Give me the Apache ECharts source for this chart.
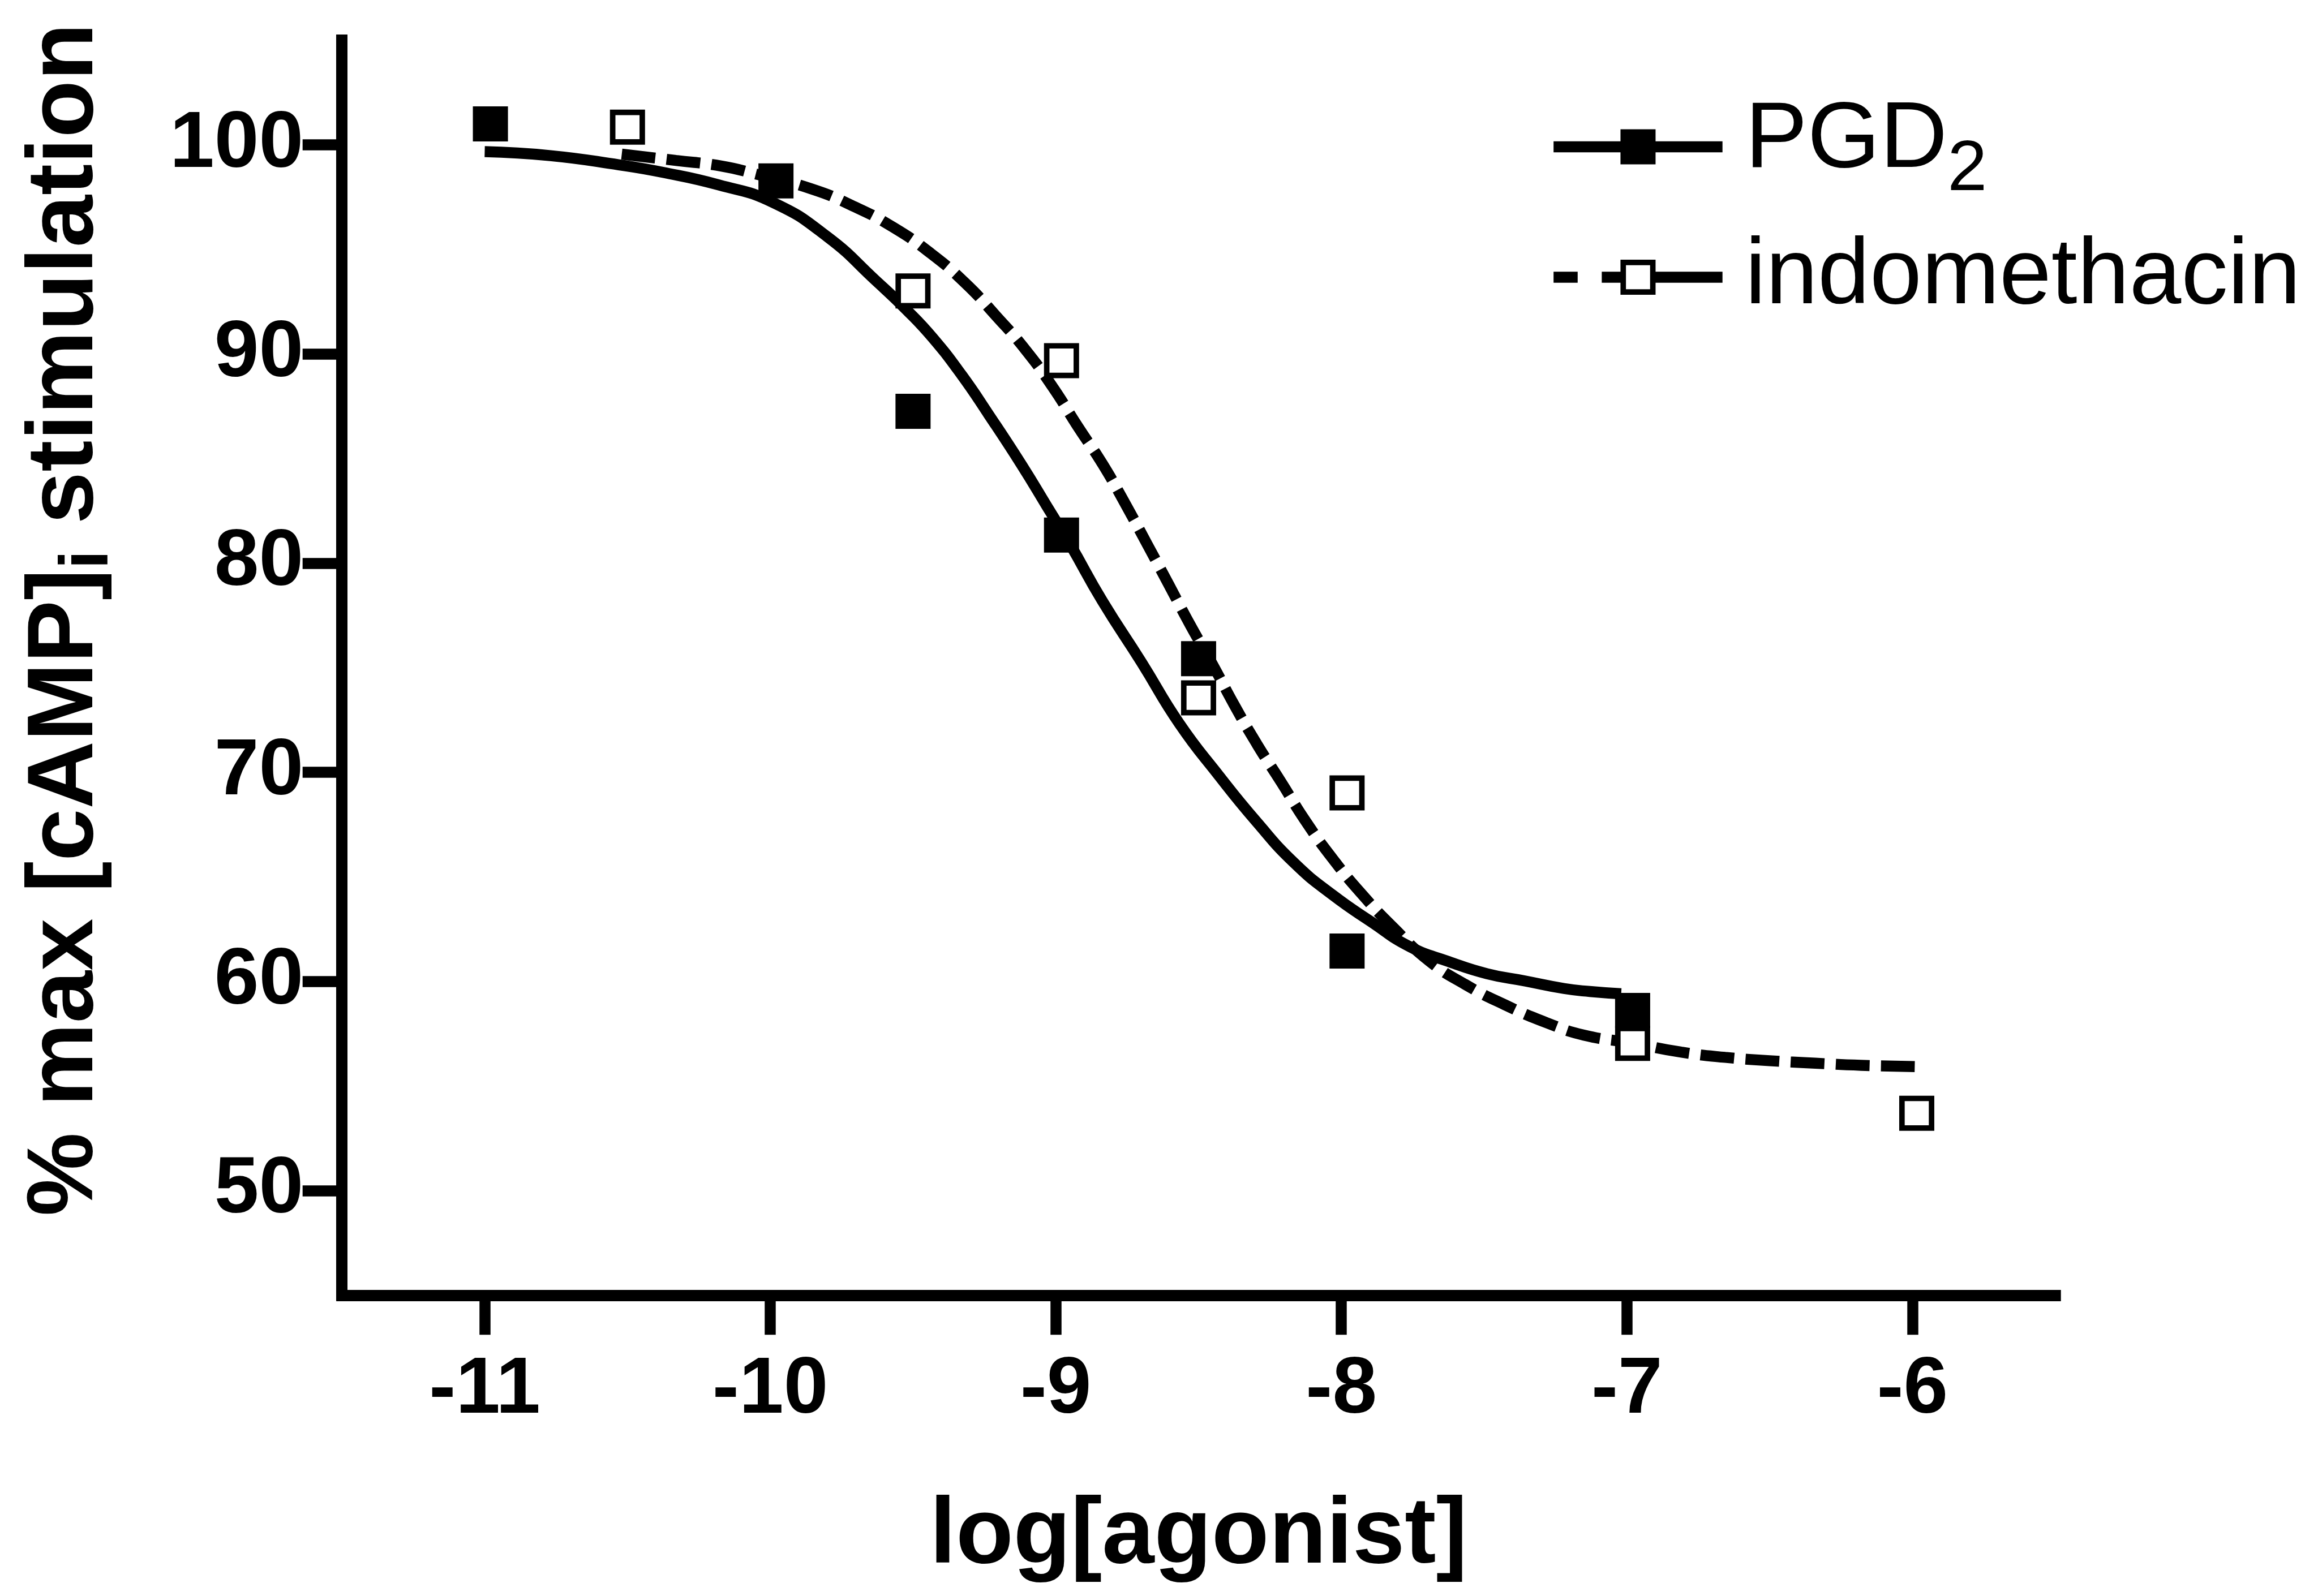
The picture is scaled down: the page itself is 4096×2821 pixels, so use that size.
<!DOCTYPE html>
<html>
<head>
<meta charset="utf-8">
<script src="https://cdn.jsdelivr.net/npm/echarts@6/dist/echarts.min.js"></script>
<style>
  html, body { margin: 0; padding: 0; background: #fff; }
  #chart { width: 4096px; height: 2821px; }
</style>
</head>
<body>
<div id="chart"></div>
<script>
// ---- data ----
const xTicks = [-11, -10, -9, -8, -7, -6];
const yTicks = [50, 60, 70, 80, 90, 100];

// measured points
const pgd2X = [-10.98, -9.98, -9.50, -8.98, -8.50, -7.98, -6.98];
const pgd2Y = [101.0, 98.27, 87.26, 81.34, 75.43, 61.45, 58.61];

const indoX = [-10.50, -9.50, -8.98, -8.50, -7.98, -6.98, -5.985];
const indoY = [100.84, 93.01, 89.68, 73.56, 69.01, 57.04, 53.70];

// fitted curves
const pgd2FitX = [-11.0, -10.77, -10.53, -10.38, -10.18, -9.99, -9.80, -9.63, -9.52, -9.43, -9.33, -9.235, -9.12, -9.03, -8.95, -8.837, -8.70, -8.567, -8.43, -8.298, -8.164, -8.03, -7.893, -7.76, -7.624, -7.49, -7.356, -7.22, -7.13, -7.02];
const pgd2FitY = [99.67, 99.48, 99.04, 98.69, 98.08, 97.24, 95.6, 93.5, 92.07, 90.75, 89.0, 87.1, 84.7, 82.69, 80.9, 78.19, 75.26, 72.32, 69.86, 67.65, 65.65, 64.13, 62.83, 61.66, 60.95, 60.37, 60.02, 59.66, 59.52, 59.41];

const indoFitX = [-10.52, -10.33, -10.17, -10.05, -9.858, -9.71, -9.57, -9.44, -9.318, -9.21, -9.105, -9.01, -8.924, -8.836, -8.757, -8.68, -8.605, -8.53, -8.45, -8.376, -8.296, -8.21, -8.125, -8.03, -7.93, -7.816, -7.69, -7.568, -7.43, -7.28, -7.15, -6.98, -6.81, -6.656, -6.50, -6.34, -6.18, -5.99];
const indoFitY = [99.55, 99.25, 98.98, 98.6, 97.9, 97.07, 96.06, 94.83, 93.4, 91.83, 90.18, 88.4, 86.55, 84.73, 82.84, 80.9, 78.99, 77.06, 75.13, 73.24, 71.35, 69.51, 67.66, 65.86, 64.2, 62.55, 60.95, 59.87, 58.9, 58.02, 57.43, 57.05, 56.62, 56.37, 56.21, 56.09, 55.99, 55.93];

const seriesNames = ['PGD2', 'indomethacin'];
const xTitle = 'log[agonist]';

// ---- chart ----
const FONT = 'Liberation Sans';
const zip = (xs, ys) => xs.map((x, i) => [x, ys[i]]);

const chart = echarts.init(document.getElementById('chart'), null, { renderer: 'canvas' });

const option = {
  backgroundColor: '#ffffff',
  animation: false,
  grid: { left: 604.2, right: 464.3, top: 71, bottom: 531.7, containLabel: false, outerBoundsMode: 'none' },
  xAxis: {
    type: 'value', min: -11.5, max: -5.5,
    axisLine: { show: true, onZero: false, lineStyle: { color: '#000', width: 20, cap: 'square' } },
    axisTick: { show: true, length: 70, customValues: xTicks, lineStyle: { color: '#000', width: 19.5 } },
    axisLabel: { show: true, customValues: xTicks, margin: 98, fontSize: 141.5, lineHeight: 141.5, fontWeight: 'bold', color: '#000', fontFamily: FONT },
    splitLine: { show: false },
    name: xTitle, nameLocation: 'middle', nameGap: 343.5, nameMoveOverlap: false,
    nameTextStyle: { fontSize: 166, lineHeight: 166, fontWeight: 'bold', color: '#000', fontFamily: FONT }
  },
  yAxis: {
    type: 'value', min: 45, max: 105,
    axisLine: { show: true, onZero: false, lineStyle: { color: '#000', width: 20, cap: 'square' } },
    axisTick: { show: true, length: 69.5, customValues: yTicks, lineStyle: { color: '#000', width: 19.5 } },
    axisLabel: { show: true, customValues: yTicks, margin: 68, fontSize: 141.5, lineHeight: 141.5, fontWeight: 'bold', color: '#000', fontFamily: FONT },
    splitLine: { show: false },
    name: '{a|% max [cAMP]}{s|i}{a| stimulation}',
    nameLocation: 'middle', nameGap: 404, nameMoveOverlap: false,
    nameTextStyle: {
      color: '#000', fontFamily: FONT, fontWeight: 'bold', fontSize: 166, lineHeight: 166,
      padding: [0, 0, 0, 170],
      rich: {
        a: { fontSize: 166, lineHeight: 166, fontWeight: 'bold', color: '#000', fontFamily: FONT },
        s: { fontSize: 120, lineHeight: 20, fontWeight: 'bold', color: '#000', fontFamily: FONT, padding: [80, 0, 0, 0] }
      }
    }
  },
  legend: [
    {
      data: [seriesNames[0]], left: 2735.5, top: 134.5, padding: 0,
      itemWidth: 298.5, itemHeight: 77.5, selectedMode: false,
      formatter: () => '{a|PGD}{s|2}',
      lineStyle: { width: 19.4 },
      itemStyle: { borderWidth: 0 },
      textStyle: {
        color: '#000', fontFamily: FONT, fontSize: 165, lineHeight: 165, padding: [0, 0, 20, 35],
        rich: {
          a: { fontSize: 165, lineHeight: 165, color: '#000', fontFamily: FONT },
          s: { fontSize: 126, lineHeight: 20, color: '#000', fontFamily: FONT, padding: [104, 0, 0, 0] }
        }
      }
    },
    {
      data: [seriesNames[1]], left: 2735.5, top: 404.5, padding: 0,
      itemWidth: 298.5, itemHeight: 65.4, selectedMode: false,
      lineStyle: { width: 19.4, type: [42.6, 42.6, 400] },
      itemStyle: { borderWidth: 9.7 },
      textStyle: { color: '#000', fontFamily: FONT, fontSize: 165, lineHeight: 165, padding: [0, 0, 6, 35] }
    }
  ],
  series: [
    {
      type: 'line', name: seriesNames[0], data: zip(pgd2FitX, pgd2FitY),
      showSymbol: false, symbol: 'rect', smooth: true, z: 2, silent: true,
      lineStyle: { color: '#000', width: 19.4, type: 'solid' },
      itemStyle: { color: '#000' },
      emphasis: { disabled: true }
    },
    {
      type: 'line', name: seriesNames[1], data: zip(indoFitX, indoFitY),
      showSymbol: false, symbol: 'rect', smooth: true, z: 2, silent: true,
      lineStyle: { color: '#000', width: 19.4, type: [59.6, 20.3], cap: 'butt' },
      itemStyle: { color: '#fff', borderColor: '#000', borderWidth: 9.7 },
      emphasis: { disabled: true }
    },
    {
      type: 'scatter', name: 'PGD2 data', data: zip(pgd2X, pgd2Y),
      symbol: 'rect', symbolSize: 62, z: 3, silent: true,
      itemStyle: { color: '#000', opacity: 1 },
      emphasis: { disabled: true }
    },
    {
      type: 'scatter', name: 'indomethacin data', data: zip(indoX, indoY),
      symbol: 'rect', symbolSize: 52.3, z: 4, silent: true,
      itemStyle: { color: '#fff', borderColor: '#000', borderWidth: 9.7, opacity: 1 },
      emphasis: { disabled: true }
    }
  ]
};
chart.setOption(option);
</script>
</body>
</html>
